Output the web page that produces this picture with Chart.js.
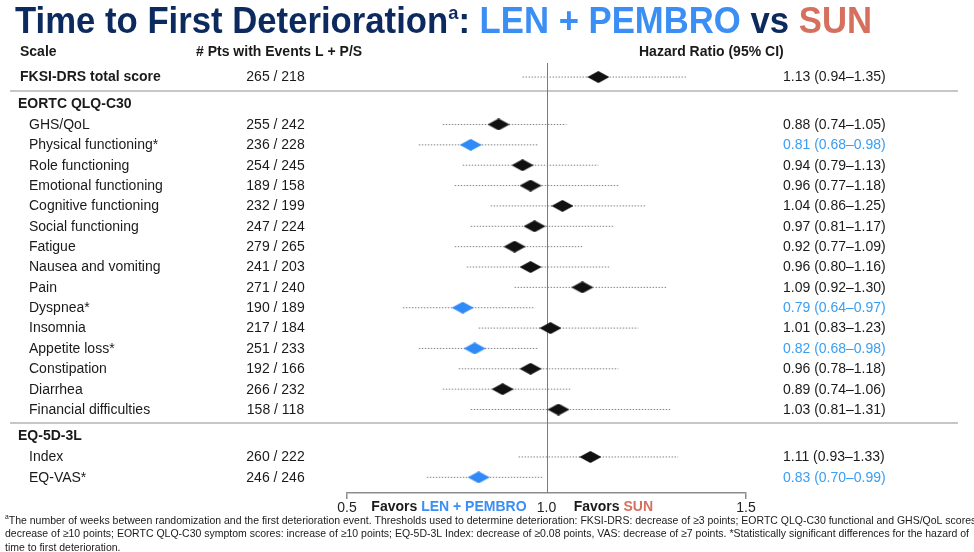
<!DOCTYPE html>
<html>
<head>
<meta charset="utf-8">
<script src="https://cdn.jsdelivr.net/npm/chart.js@4.4.1/dist/chart.umd.min.js"></script>
<style>
  html, body { margin: 0; padding: 0; background: #fff; }
  #forest { display: block; }
</style>
</head>
<body>
<canvas id="forest" width="974" height="552"></canvas>
<script>
// ─── Data ─────────────────────────────────────────────────────────
const scaleNames = [
    'FKSI-DRS total score',
    'GHS/QoL', 'Physical functioning*', 'Role functioning', 'Emotional functioning',
    'Cognitive functioning', 'Social functioning', 'Fatigue', 'Nausea and vomiting',
    'Pain', 'Dyspnea*', 'Insomnia', 'Appetite loss*', 'Constipation', 'Diarrhea',
    'Financial difficulties',
    'Index', 'EQ-VAS*'
];
const groupNames  = ['EORTC QLQ-C30', 'EQ-5D-3L'];
const groupStarts = [1, 16];

const eventsLP = [265, 255, 236, 254, 189, 232, 247, 279, 241, 271, 190, 217, 251, 192, 266, 158, 260, 246];
const eventsS  = [218, 242, 228, 245, 158, 199, 224, 265, 203, 240, 189, 184, 233, 166, 232, 118, 222, 246];

const hazardRatio = [1.13, 0.88, 0.81, 0.94, 0.96, 1.04, 0.97, 0.92, 0.96, 1.09, 0.79, 1.01, 0.82, 0.96, 0.89, 1.03, 1.11, 0.83];
const ciLower     = [0.94, 0.74, 0.68, 0.79, 0.77, 0.86, 0.81, 0.77, 0.80, 0.92, 0.64, 0.83, 0.68, 0.78, 0.74, 0.81, 0.93, 0.70];
const ciUpper     = [1.35, 1.05, 0.98, 1.13, 1.18, 1.25, 1.17, 1.09, 1.16, 1.30, 0.97, 1.23, 0.98, 1.18, 1.06, 1.31, 1.33, 0.99];

const xTicks = [0.5, 1.0, 1.5];

const footLines = [
    'The number of weeks between randomization and the first deterioration event. Thresholds used to determine deterioration: FKSI-DRS: decrease of \u22653 points; EORTC QLQ-C30 functional and GHS/QoL scores:',
    'decrease of \u226510 points; EORTC QLQ-C30 symptom scores: increase of \u226510 points; EQ-5D-3L Index: decrease of \u22650.08 points, VAS: decrease of \u22657 points. *Statistically significant differences for the hazard of',
    'time to first deterioration.'
];

// ─── Palette ──────────────────────────────────────────────────────
const NAVY   = '#0c2a5e';
const BLUE   = '#3a8ef4';
const SALMON = '#d6705e';
const SIGTXT = '#3a9ef2';
const INK    = '#1a1a1a';
const FONT   = "'Liberation Sans', Arial, Helvetica, sans-serif";

// significant = whole CI below 1
const significant = ciUpper.map(u => u < 1);

// row positions in "line" units, extra room round the section headers
const rowPos = [];
const headerPos = [];
const sepPos = [];
scaleNames.forEach((_, i) => {
    if (i === 0) { rowPos.push(0); return; }
    if (groupStarts.includes(i)) {
        const h = rowPos[i - 1] + 1.33;
        sepPos.push((rowPos[i - 1] + h) / 2);
        headerPos.push(h);
        rowPos.push(h + 1);
    } else {
        rowPos.push(rowPos[i - 1] + 1);
    }
});

// diamond marker images
function makeDiamond(color) {
    const c = document.createElement('canvas');
    c.width = 22; c.height = 12;
    const g = c.getContext('2d');
    g.fillStyle = color;
    g.beginPath();
    g.moveTo(0, 6); g.lineTo(11, 0); g.lineTo(22, 6); g.lineTo(11, 12);
    g.closePath();
    g.fill();
    return c;
}
const blackDiamond = makeDiamond('#111111');
const blueDiamond  = makeDiamond('#2f8af7');

// draw a run of differently styled pieces; optional horizontal squeeze factor
function drawParts(ctx, parts, x, y, sx = 1) {
    ctx.save();
    ctx.translate(x, y);
    ctx.scale(sx, 1);
    let cx = 0;
    parts.forEach(p => {
        ctx.font = p.font;
        ctx.fillStyle = p.color;
        ctx.fillText(p.text, cx, p.dy || 0);
        cx += ctx.measureText(p.text).width;
    });
    ctx.restore();
}
function partsWidth(ctx, parts) {
    return parts.reduce((s, p) => { ctx.font = p.font; return s + ctx.measureText(p.text).width; }, 0);
}

// ─── Frame + text plugin ──────────────────────────────────────────
const forestFrame = {
    id: 'forestFrame',
    beforeDatasetsDraw(chart) {
        const { ctx, scales: { x, y }, chartArea } = chart;
        ctx.save();
        // section separators
        ctx.strokeStyle = '#b4b4b4';
        ctx.lineWidth = 1.5;
        sepPos.forEach(v => {
            const py = Math.round(y.getPixelForValue(v));
            ctx.beginPath(); ctx.moveTo(10, py); ctx.lineTo(958, py); ctx.stroke();
        });
        // line of no effect
        const px = Math.round(x.getPixelForValue(1)) + 0.5;
        ctx.strokeStyle = '#7a7a7a';
        ctx.lineWidth = 1;
        ctx.beginPath(); ctx.moveTo(px, chartArea.top); ctx.lineTo(px, chartArea.bottom); ctx.stroke();
        ctx.restore();
    },
    afterDraw(chart) {
        const { ctx, scales: { x, y } } = chart;
        ctx.save();

        // title
        ctx.textBaseline = 'alphabetic';
        const tf = `bold 36px ${FONT}`;
        const title = [
            { text: 'Time to First Deterioration', font: tf, color: NAVY },
            { text: 'a', font: `bold 19px ${FONT}`, color: NAVY, dy: -14 },
            { text: ': ', font: tf, color: NAVY },
            { text: 'LEN + PEMBRO', font: tf, color: BLUE },
            { text: ' vs ', font: tf, color: NAVY },
            { text: 'SUN', font: tf, color: SALMON }
        ];
        drawParts(ctx, title, 15, 33, 857 / partsWidth(ctx, title));

        ctx.textBaseline = 'middle';
        const bold = `bold 14px ${FONT}`;
        const reg  = `14px ${FONT}`;

        // column headers
        const hy = y.getPixelForValue(-1.2);
        ctx.fillStyle = INK;
        ctx.font = bold;
        ctx.textAlign = 'left';
        ctx.fillText('Scale', 20, hy);
        ctx.fillText('# Pts with Events L + P/S', 196, hy);
        ctx.fillText('Hazard Ratio (95% CI)', 639, hy);

        // section headers
        groupNames.forEach((g, k) => ctx.fillText(g, 18, y.getPixelForValue(headerPos[k])));

        // rows
        scaleNames.forEach((name, i) => {
            const py = y.getPixelForValue(rowPos[i]) + 0.5;
            ctx.fillStyle = INK;
            ctx.textAlign = 'left';
            ctx.font = i === 0 ? bold : reg;
            ctx.fillText(name, i === 0 ? 20 : 29, py);

            ctx.font = reg;
            ctx.textAlign = 'center';
            ctx.fillText(`${eventsLP[i]} / ${eventsS[i]}`, 275.5, py);

            ctx.textAlign = 'left';
            ctx.fillStyle = significant[i] ? SIGTXT : INK;
            ctx.fillText(`${hazardRatio[i].toFixed(2)} (${ciLower[i].toFixed(2)}\u2013${ciUpper[i].toFixed(2)})`, 783, py);
        });

        // favours labels under the axis
        drawParts(ctx, [
            { text: 'Favors ', font: bold, color: INK },
            { text: 'LEN + PEMBRO', font: bold, color: BLUE }
        ], x.getPixelForValue(0.561), 507);
        drawParts(ctx, [
            { text: 'Favors ', font: bold, color: INK },
            { text: 'SUN', font: bold, color: SALMON }
        ], x.getPixelForValue(1.068), 507);

        // footnote, squeezed so the second line fills the slide width
        const ff = `11px ${FONT}`;
        ctx.font = ff;
        const sx = 964 / ctx.measureText(footLines[1]).width;
        drawParts(ctx, [
            { text: 'a', font: `7px ${FONT}`, color: INK, dy: -3 },
            { text: footLines[0], font: ff, color: INK }
        ], 5, 520.5, sx);
        drawParts(ctx, [{ text: footLines[1], font: ff, color: INK }], 5, 534, sx);
        drawParts(ctx, [{ text: footLines[2], font: ff, color: INK }], 5, 547.5, sx);

        ctx.restore();
    }
};

// ─── Datasets ─────────────────────────────────────────────────────
const ciSets = scaleNames.map((name, i) => ({
    label: name,
    data: [{ x: ciLower[i], y: rowPos[i] }, { x: ciUpper[i], y: rowPos[i] }],
    showLine: true,
    borderColor: '#858585',
    borderWidth: 1,
    borderDash: [1.5, 1.5],
    pointRadius: 0,
    order: 2
}));

const hrSet = {
    label: 'Hazard ratio',
    data: hazardRatio.map((v, i) => ({ x: v, y: rowPos[i] })),
    pointStyle: ctx => significant[ctx.dataIndex] ? blueDiamond : blackDiamond,
    pointRadius: 6,
    order: 1
};

new Chart(document.getElementById('forest'), {
    type: 'scatter',
    data: { datasets: [...ciSets, hrSet] },
    options: {
        responsive: false,
        animation: false,
        devicePixelRatio: 1,
        layout: { padding: { left: 347, right: 228, top: 63, bottom: 39 } },
        plugins: {
            legend: { display: false },
            tooltip: { enabled: false }
        },
        scales: {
            x: {
                type: 'linear',
                min: 0.5,
                max: 1.5,
                afterBuildTicks: s => { s.ticks = xTicks.map(v => ({ value: v })); },
                afterFit: s => { s.height = 20; },
                grid: {
                    drawOnChartArea: false,
                    tickLength: 6,
                    lineWidth: 1.5,
                    color: c => (c.tick && c.tick.value === 1) ? 'rgba(0,0,0,0)' : '#8c8c8c'
                },
                border: { color: '#8c8c8c', width: 1.5 },
                ticks: {
                    padding: 1,
                    color: '#222',
                    font: { size: 14, family: FONT },
                    callback: v => Number(v).toFixed(1)
                }
            },
            y: {
                type: 'linear',
                reverse: true,
                min: -0.69,
                max: 20.43,
                display: false
            }
        }
    },
    plugins: [forestFrame]
});
</script>
</body>
</html>
